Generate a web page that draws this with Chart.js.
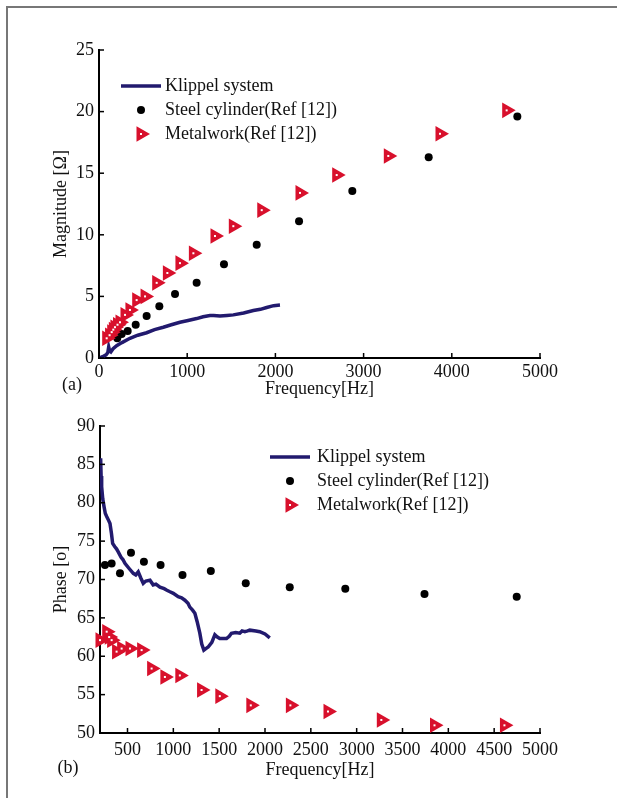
<!DOCTYPE html>
<html>
  <head>
    <script src="https://cdn.jsdelivr.net/npm/chart.js@4"></script>
    <style>
      body { margin: 0; background: #fff; }
      #page { position: relative; width: 617px; height: 798px; overflow: hidden; }
      #frame { position: absolute; left: 6px; top: 6px; width: 800px; height: 900px;
               border-top: 2px solid #777; border-left: 2px solid #777; }
      canvas { position: absolute; left: 0; }
    </style>
  </head>

  <body>
    <div id="page">
      <div id="frame"></div>
      <canvas id="mag" width="617" height="400" style="top: 0px"></canvas>
      <canvas id="phase" width="617" height="398" style="top: 400px"></canvas>
    </div>
    <script>
      // (a) magnitude
      const magKlippelFreq = [0, 40, 80, 100, 110, 120, 135, 160, 200, 260, 351, 440, 540, 630, 729, 820, 918, 1010, 1107, 1180, 1258, 1300, 1372, 1450, 1523, 1640, 1750, 1830, 1901, 1980, 2052];
      const magKlippel = [0.0, 0.1, 0.25, 0.45, 0.9, 0.6, 0.5, 0.75, 1.0, 1.25, 1.6, 1.85, 2.05, 2.3, 2.5, 2.7, 2.9, 3.05, 3.2, 3.35, 3.45, 3.45, 3.4, 3.45, 3.5, 3.65, 3.85, 3.95, 4.1, 4.25, 4.3];
      const magSteelFreq = [207, 257, 325, 416, 540, 684, 862, 1107, 1417, 1788, 2268, 2872, 3738, 4743];
      const magSteel = [1.6, 1.95, 2.2, 2.7, 3.4, 4.2, 5.2, 6.1, 7.6, 9.2, 11.1, 13.55, 16.3, 19.6];
      const magMetalFreq = [87, 120, 144, 162, 181, 210, 238, 295, 351, 427, 522, 654, 775, 918, 1070, 1315, 1523, 1845, 2279, 2695, 3280, 3866, 4622];
      const magMetal = [1.6, 1.85, 2.1, 2.3, 2.5, 2.7, 2.9, 3.5, 3.9, 4.7, 5.0, 6.1, 6.9, 7.7, 8.5, 9.9, 10.7, 12.0, 13.4, 14.85, 16.4, 18.2, 20.1];
      const magFreqTicks = [0, 1000, 2000, 3000, 4000, 5000];

      // (b) phase
      const phKlippelFreq = [207, 212, 218, 230, 244, 258, 273, 290, 309, 325, 338, 360, 380, 399, 430, 450, 472, 520, 563, 590, 617, 645, 672, 700, 745, 780, 810, 854, 900, 930, 963, 1000, 1053, 1090, 1126, 1160, 1180, 1210, 1235, 1260, 1289, 1310, 1333, 1355, 1380, 1420, 1453, 1480, 1507, 1580, 1610, 1634, 1680, 1725, 1750, 1780, 1810, 1834, 1900, 1943, 2000, 2052];
      const phKlippel = [85.8, 83.5, 82.1, 80.5, 79.5, 78.6, 78.2, 77.8, 77.3, 76.0, 74.7, 74.3, 74.0, 73.6, 72.9, 72.6, 72.1, 71.4, 70.8, 70.6, 71.0, 70.2, 69.5, 69.8, 69.9, 69.3, 69.4, 69.0, 68.8, 68.6, 68.4, 68.2, 67.75, 67.6, 67.3, 66.9, 66.4, 66.0, 65.6, 64.5, 63.0, 61.6, 60.8, 61.0, 61.2, 61.8, 62.8, 62.5, 62.3, 62.3, 62.6, 63.0, 63.1, 63.0, 63.3, 63.2, 63.3, 63.4, 63.3, 63.2, 62.9, 62.4];
      const phSteelFreq = [254, 327, 418, 538, 679, 861, 1100, 1409, 1790, 2270, 2876, 3740, 4746];
      const phSteel = [71.9, 72.1, 70.8, 73.5, 72.3, 71.9, 70.6, 71.1, 69.5, 69.0, 68.8, 68.1, 67.75];
      const phMetalFreq = [200, 273, 300, 327, 381, 436, 527, 654, 763, 908, 1071, 1308, 1507, 1845, 2277, 2687, 3269, 3849, 4612];
      const phMetal = [62.1, 63.2, 62.5, 62.1, 60.6, 61.0, 61.0, 60.8, 58.4, 57.3, 57.5, 55.6, 54.8, 53.6, 53.6, 52.8, 51.7, 51.0, 51.0];
      const phFreqTicks = [500, 1000, 1500, 2000, 2500, 3000, 3500, 4000, 4500, 5000];

      const seriesNames = ['Klippel system', 'Steel cylinder(Ref [12])', 'Metalwork(Ref [12])'];

      const NAVY = '#221a6e';
      const RED = '#d8102c';
      const FONT = 'Liberation Serif';
      const TRI = 9;

      const zip = (xs, ys) => xs.map((x, i) => ({ x: x, y: ys[i] }));

      function makeDatasets(kf, kv, sf, sv, mf, mv) {
        return [
          { label: seriesNames[0], data: zip(kf, kv), showLine: true, borderColor: NAVY,
            borderWidth: 3.5, pointRadius: 0, tension: 0, order: 3 },
          { label: seriesNames[1], data: zip(sf, sv), pointStyle: 'circle', pointRadius: 4,
            backgroundColor: '#000', borderWidth: 0, order: 2, clip: false },
          { label: seriesNames[2], data: zip(mf, mv), pointStyle: 'triangle', rotation: 90,
            pointRadius: TRI, backgroundColor: RED, borderWidth: 0, order: 1, clip: false },
        ];
      }

      // inward ticks, white dot in triangles, legend and panel letter
      const decorPlugin = {
        id: 'decor',
        afterDatasetsDraw(chart, args, opts) {
          const ctx = chart.ctx;
          const area = chart.chartArea;
          ctx.save();
          ctx.strokeStyle = '#000';
          ctx.lineWidth = 1.5;
          chart.scales.x.ticks.forEach((t) => {
            const px = chart.scales.x.getPixelForValue(t.value);
            ctx.beginPath();
            ctx.moveTo(px, area.bottom);
            ctx.lineTo(px, area.bottom - 5);
            ctx.stroke();
          });
          chart.scales.y.ticks.forEach((t) => {
            const py = chart.scales.y.getPixelForValue(t.value);
            ctx.beginPath();
            ctx.moveTo(area.left, py);
            ctx.lineTo(area.left + 5, py);
            ctx.stroke();
          });

          // small white dot at triangle centres
          ctx.fillStyle = '#fff';
          chart.getDatasetMeta(2).data.forEach((pt) => {
            ctx.fillRect(pt.x - 1, pt.y - 1, 2, 2);
          });

          // legend
          ctx.font = '18px "' + FONT + '"';
          ctx.textBaseline = 'middle';
          ctx.textAlign = 'left';
          const lx = opts.x;
          chart.data.datasets.forEach((ds, i) => {
            const y = opts.y + i * opts.gap;
            const mx = lx + 20;
            if (i === 0) {
              ctx.strokeStyle = NAVY;
              ctx.lineWidth = 3.5;
              ctx.beginPath();
              ctx.moveTo(lx, y);
              ctx.lineTo(lx + 40, y);
              ctx.stroke();
            } else if (i === 1) {
              ctx.fillStyle = '#000';
              ctx.beginPath();
              ctx.arc(mx, y, 4, 0, Math.PI * 2);
              ctx.fill();
            } else {
              const r = TRI;
              ctx.fillStyle = RED;
              ctx.beginPath();
              ctx.moveTo(mx + r, y);
              ctx.lineTo(mx - r / 2, y - r * Math.sqrt(3) / 2);
              ctx.lineTo(mx - r / 2, y + r * Math.sqrt(3) / 2);
              ctx.closePath();
              ctx.fill();
              ctx.fillStyle = '#fff';
              ctx.fillRect(mx - 1, y - 1, 2, 2);
            }
            ctx.fillStyle = '#111';
            ctx.fillText(ds.label, lx + opts.textGap, y);
          });

          // panel letter
          ctx.fillStyle = '#111';
          ctx.textAlign = 'center';
          ctx.fillText(opts.letter, opts.letterX, opts.letterY);
          ctx.restore();
        },
      };

      function makeChart(id, cfg) {
        return new Chart(document.getElementById(id).getContext('2d'), {
          type: 'scatter',
          data: { datasets: cfg.datasets },
          options: {
            responsive: false,
            animation: false,
            layout: { padding: { left: 0, top: cfg.top, right: 77, bottom: 0 } },
            plugins: {
              legend: { display: false },
              tooltip: { enabled: false },
              decor: cfg.decor,
            },
            scales: {
              x: {
                type: 'linear',
                min: cfg.xMin,
                max: 5000,
                ticks: { color: '#111', font: { family: FONT, size: 18 }, padding: cfg.xPad,
                         maxRotation: 0, autoSkip: false, callback: (v) => String(v) },
                afterBuildTicks: (s) => { s.ticks = cfg.xTicks.map((v) => ({ value: v })); },
                grid: { display: false, drawTicks: false },
                border: { display: true, color: '#000', width: 2 },
                title: { display: true, text: 'Frequency[Hz]', color: '#111',
                         font: { family: FONT, size: 18 }, padding: { top: 0, bottom: cfg.xTitlePad } },
                afterFit: (s) => { s.height = cfg.xHeight; },
              },
              y: {
                min: cfg.yMin,
                max: cfg.yMax,
                ticks: { stepSize: 5, color: '#111', font: { family: FONT, size: 18 }, padding: cfg.yPad,
                         callback: (v) => String(v) },
                grid: { display: false, drawTicks: false },
                border: { display: true, color: '#000', width: 2 },
                title: { display: true, text: cfg.yTitle, color: '#111',
                         font: { family: FONT, size: 18 }, padding: { top: 50, bottom: 0 } },
                afterFit: (s) => { s.width = cfg.yWidth; },
              },
            },
          },
          plugins: [decorPlugin],
        });
      }

      makeChart('mag', {
        datasets: makeDatasets(magKlippelFreq, magKlippel, magSteelFreq, magSteel, magMetalFreq, magMetal),
        top: 50, xMin: 0, xTicks: magFreqTicks, xPad: 3, xHeight: 42, xTitlePad: 0,
        yMin: 0, yMax: 25, yPad: 5, yWidth: 99, yTitle: 'Magnitude [Ω]',
        decor: { x: 121, y: 86, gap: 24, textGap: 44, letter: '(a)', letterX: 72, letterY: 385 },
      });

      makeChart('phase', {
        datasets: makeDatasets(phKlippelFreq, phKlippel, phSteelFreq, phSteel, phMetalFreq, phMetal),
        top: 26, xMin: 200, xTicks: phFreqTicks, xPad: 6, xHeight: 65, xTitlePad: 17,
        yMin: 50, yMax: 90, yPad: 5, yWidth: 100, yTitle: 'Phase [o]',
        decor: { x: 270, y: 57, gap: 24, textGap: 47, letter: '(b)', letterX: 68, letterY: 368 },
      });
    </script>
  </body>
</html>
